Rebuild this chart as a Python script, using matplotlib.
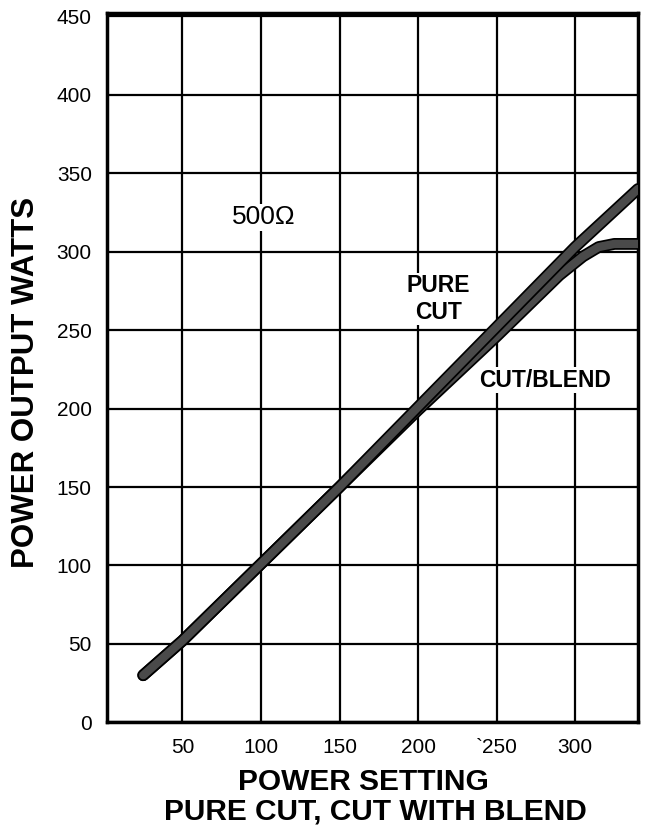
import matplotlib.pyplot as plt
import matplotlib.patheffects as pe

plt.rcParams['font.family'] = ['Liberation Sans', 'DejaVu Sans']

# readings from the chart
setting = [25, 50, 100, 150, 200, 250, 300, 340]
pure_cut = [30, 52, 101, 150, 201, 252, 303, 340]

blend_setting = [25, 50, 100, 150, 200, 250, 290, 305, 315, 325, 340]
cut_blend = [30, 52, 101, 150, 199, 246, 285, 297, 303, 305, 305]

y_ticks = [0, 50, 100, 150, 200, 250, 300, 350, 400, 450]
x_ticks = [50, 100, 150, 200, 250, 300]
x_tick_labels = ['50', '100', '150', '200', '`250', '300']

fig = plt.figure(figsize=(6.45, 8.35), dpi=100)
ax = fig.add_axes([0.166, 0.135, 0.823, 0.849])

stroke = [pe.Stroke(linewidth=8.5, foreground='black'), pe.Normal()]
ax.plot(blend_setting, cut_blend, color='#4a4a4a', lw=6, solid_capstyle='round',
        path_effects=stroke, zorder=3)
ax.plot(setting, pure_cut, color='#4a4a4a', lw=6, solid_capstyle='round',
        path_effects=stroke, zorder=4)

ax.set_xlim(2, 340)
ax.set_ylim(0, 452)
ax.set_xticks(x_ticks)
ax.set_xticklabels(x_tick_labels)
ax.set_yticks(y_ticks)
ax.tick_params(length=0, labelsize=15, pad=11)
ax.grid(True, color='black', lw=1.6)
ax.set_axisbelow(True)
for s in ax.spines.values():
    s.set_linewidth(2.5)

ax.text(102, 322, '500Ω', fontsize=19, ha='center', va='center',
        bbox=dict(facecolor='white', edgecolor='none', pad=1))
ax.text(213, 270, 'PURE\nCUT', fontsize=16.5, fontweight='bold', ha='center',
        va='center', linespacing=1.2,
        bbox=dict(facecolor='white', edgecolor='none', pad=1))
ax.text(281, 218, 'CUT/BLEND', fontsize=16.5, fontweight='bold', ha='center',
        va='center', bbox=dict(facecolor='white', edgecolor='none', pad=1))

# axis titles placed as on the original sheet
fig.text(363 / 645, 1 - 782 / 835, 'POWER SETTING', fontsize=21.5,
         fontweight='bold', ha='center', va='center')
fig.text(375 / 645, 1 - 811 / 835, 'PURE CUT, CUT WITH BLEND', fontsize=21.5,
         fontweight='bold', ha='center', va='center')
fig.text(26 / 645, 1 - 382 / 835, 'POWER OUTPUT WATTS', fontsize=22.5,
         fontweight='bold', ha='center', va='center', rotation=90)

fig.savefig('out.png', dpi=100)
